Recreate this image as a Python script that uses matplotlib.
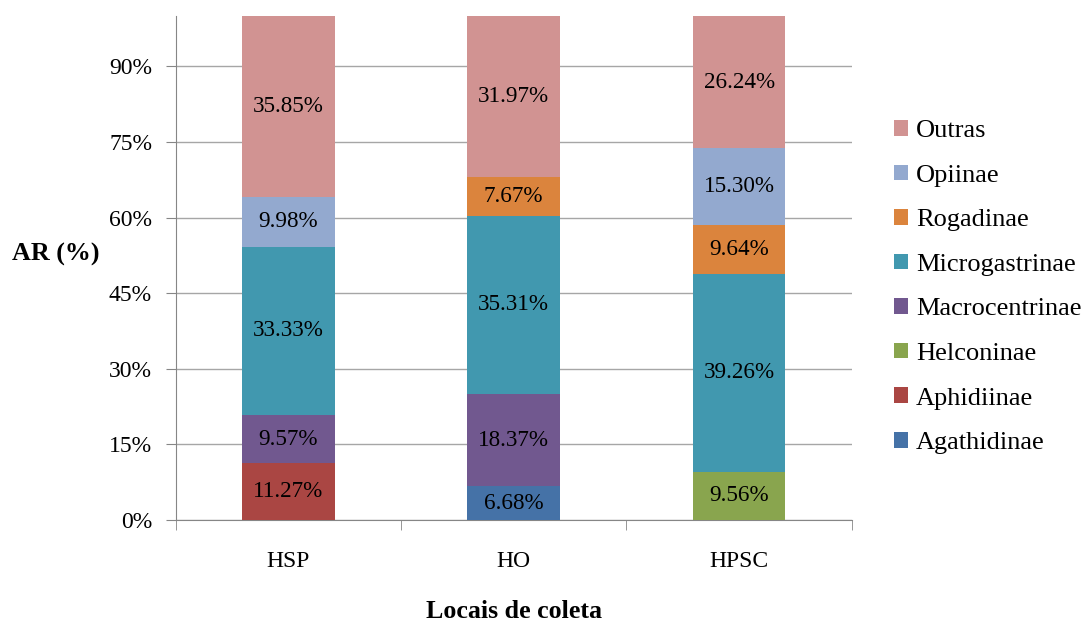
import matplotlib
matplotlib.use("Agg")
import matplotlib.pyplot as plt
import numpy as np

sites = ["HSP", "HO", "HPSC"]
groups = ["Agathidinae", "Aphidiinae", "Helconinae", "Macrocentrinae",
          "Microgastrinae", "Rogadinae", "Opiinae", "Outras"]
agathidinae = [0.0, 6.68, 0.0]
aphidiinae = [11.27, 0.0, 0.0]
helconinae = [0.0, 0.0, 9.56]
macrocentrinae = [9.57, 18.37, 0.0]
microgastrinae = [33.33, 35.31, 39.26]
rogadinae = [0.0, 7.67, 9.64]
opiinae = [9.98, 0.0, 15.30]
outras = [35.85, 31.97, 26.24]
series = [agathidinae, aphidiinae, helconinae, macrocentrinae,
          microgastrinae, rogadinae, opiinae, outras]
colors = ["#4572A7", "#AA4643", "#89A54E", "#71588F",
          "#4198AF", "#DB843D", "#93A9CF", "#D19392"]
yticks = [0, 15, 30, 45, 60, 75, 90]

plt.rcParams["font.family"] = ["Liberation Serif", "DejaVu Serif"]
fig = plt.figure(figsize=(10.86, 6.24), dpi=100)
ax = fig.add_axes([0.1618, 0.1667, 0.6225, 0.8077])

x = np.arange(len(sites))
bottom = np.zeros(len(sites))
handles = []
for name, vals, c in zip(groups, series, colors):
    vals = np.array(vals)
    b = ax.bar(x, vals, 0.411, bottom=bottom, color=c, label=name, zorder=3)
    handles.append(b)
    for xi, v, bt in zip(x, vals, bottom):
        if v > 0:
            ax.text(xi, bt + v / 2, f"{v:.2f}%", ha="center", va="center",
                    fontsize=16.7, zorder=4)
    bottom += vals

ax.set_xlim(-0.5, 2.5)
ax.set_ylim(0, 100)
ax.set_yticks(yticks)
ax.set_yticklabels([f"{t}%" for t in yticks], fontsize=17)
ax.set_xticks(x)
ax.set_xticklabels(sites, fontsize=17)
ax.set_xticks([-0.5, 0.5, 1.5, 2.5], minor=True)
ax.tick_params(axis="x", which="major", length=0, pad=22)
ax.tick_params(axis="x", which="minor", length=7, color="#868686", direction="out")
ax.tick_params(axis="y", length=7, color="#868686", direction="out", pad=10)
ax.yaxis.grid(True, color="#A6A6A6", linewidth=1, zorder=0)
for s in ["top", "right"]:
    ax.spines[s].set_visible(False)
for s in ["left", "bottom"]:
    ax.spines[s].set_color("#868686")
ax.set_axisbelow(True)

ax.set_xlabel("Locais de coleta", fontsize=18.7, fontweight="bold")
ax.xaxis.set_label_coords(0.5, -0.182)
ax.xaxis.label.set_va("center")
ax.set_ylabel("AR (%)", fontsize=18.7, fontweight="bold", rotation=0)
ax.yaxis.set_label_coords(-0.177, 0.527)
ax.yaxis.label.set_va("center")
ax.yaxis.label.set_ha("center")

leg = ax.legend(handles[::-1], groups[::-1], loc="center left",
                bbox_to_anchor=(1.0626, 0.462), frameon=False, fontsize=19,
                handlelength=0.53, handleheight=0.53, handletextpad=0.3,
                labelspacing=0.85, borderpad=0, borderaxespad=0)

fig.savefig("out.png", dpi=100)
